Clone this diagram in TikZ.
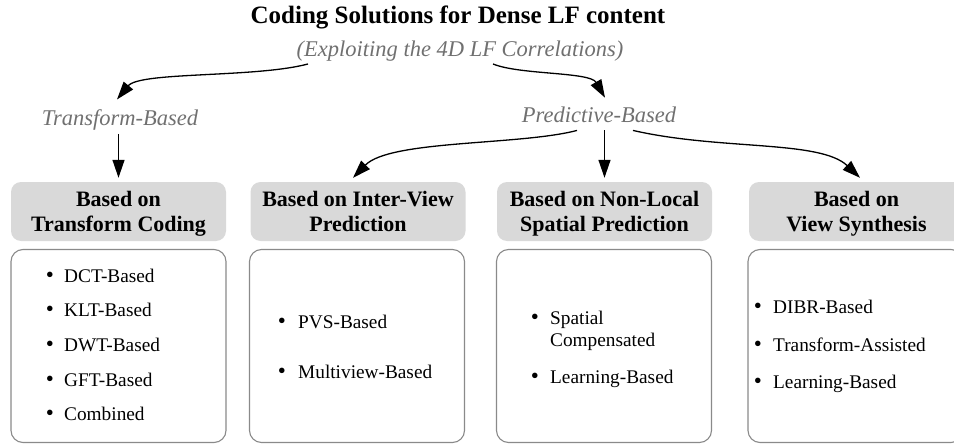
\documentclass[tikz,border=0pt]{standalone}
\usepackage{fontspec}
\setmainfont{Liberation Serif}
\usetikzlibrary{arrows.meta}

\definecolor{hdrfill}{HTML}{D9D9D9}
\definecolor{boxline}{HTML}{8A8A8A}
\definecolor{softtext}{HTML}{707070}

\tikzset{
  titletxt/.style={anchor=base, inner sep=0pt, font=\fontsize{25}{29}\selectfont\bfseries},
  branchtxt/.style={anchor=base, inner sep=0pt, text=softtext, font=\fontsize{22.5}{27}\selectfont\itshape},
  hdr/.style={rectangle, rounded corners=10pt, fill=hdrfill, draw=none,
    minimum width=215pt, minimum height=59pt, inner sep=0pt, align=center,
    text depth=0pt, font=\fontsize{22}{25.5}\selectfont\bfseries},
  cbox/.style={rectangle, rounded corners=12pt, draw=boxline, line width=1.1pt,
    fill=white, minimum width=215pt, minimum height=193pt, inner sep=0pt},
  bul/.style={anchor=base, inner sep=0pt, font=\fontsize{23}{23}\selectfont},
  itemtxt/.style={anchor=base west, inner sep=0pt, font=\fontsize{19.3}{23}\selectfont},
  conn/.style={-{Triangle[length=18pt,width=12pt]}, line width=1.3pt},
}

% one list entry: bullet, then its text
\newcommand{\listentry}[5]{%
  \node[bul] (#1-b) at (#2,-#4) {\textbullet};
  \node[itemtxt] (#1) at (#3,-#4) {#5};
}

\begin{document}
\begin{tikzpicture}[x=1pt,y=1pt]
\useasboundingbox (0,0) rectangle (954,-444);
\clip (0,0) rectangle (954,-444);

% headings
\node[titletxt] (title) at (458,-24) {Coding Solutions for Dense LF content};
\node[branchtxt] (sub) at (460,-57) {(Exploiting the 4D LF Correlations)};
\node[branchtxt] (tb) at (120,-125) {Transform-Based};
\node[branchtxt] (pb) at (599,-123) {Predictive-Based};

% category headers
\node[hdr] (h1) at (118.5,-211.5) {Based on\\Transform Coding};
\node[hdr] (h2) at (358,-211.5) {Based on Inter-View\\Prediction};
\node[hdr] (h3) at (604.5,-211.5) {Based on Non-Local\\Spatial Prediction};
\node[hdr] (h4) at (856.5,-211.5) {Based on\\View Synthesis};

% content boxes
\node[cbox] (c1) at (118.5,-346) {};
\node[cbox] (c2) at (357,-346) {};
\node[cbox] (c3) at (604,-346) {};
\node[cbox] (c4) at (855.5,-346) {};

% entries
\listentry{dct}{50}{64}{282.3}{DCT-Based}
\listentry{klt}{50}{64}{316.7}{KLT-Based}
\listentry{dwt}{50}{64}{351.7}{DWT-Based}
\listentry{gft}{50}{64}{386.7}{GFT-Based}
\listentry{comb}{50}{64}{420.7}{Combined}

\listentry{pvs}{282}{298}{328.3}{PVS-Based}
\listentry{mv}{282}{298}{378.3}{Multiview-Based}

\listentry{sc}{535}{550}{324}{Spatial}
\node[itemtxt] (sc2) at (550,-346.7) {Compensated};
\listentry{lb3}{535}{550}{383.3}{Learning-Based}

\listentry{dibr}{758}{773}{313.3}{DIBR-Based}
\listentry{ta}{758}{773}{351.7}{Transform-Assisted}
\listentry{lb4}{758}{773}{388.3}{Learning-Based}

% connectors
\draw[conn] ([xshift=-152pt,yshift=-2pt]sub.south)
  .. controls +(-53,-14) and +(23,28) .. ([xshift=-3pt,yshift=9.5pt]tb.north);
\draw[conn] ([xshift=33pt,yshift=-2pt]sub.south)
  .. controls +(27,-11) and +(-15,26) .. ([xshift=6pt,yshift=9.5pt]pb.north);

\draw[conn, shorten <=4pt, shorten >=4pt] (h1.north |- tb.south) -- (h1.north);

\draw[conn] ([xshift=-22pt,yshift=-7pt]pb.south)
  .. controls +(-57,-15) and +(37,38) .. ([xshift=-5pt,yshift=4pt]h2.north);
\draw[conn, shorten <=7pt, shorten >=4pt] (h3.north |- pb.south) -- (h3.north);
\draw[conn] ([xshift=34pt,yshift=-7pt]pb.south)
  .. controls +(87,-20) and +(-40,38) .. ([xshift=3.5pt,yshift=4pt]h4.north);
\end{tikzpicture}
\end{document}
